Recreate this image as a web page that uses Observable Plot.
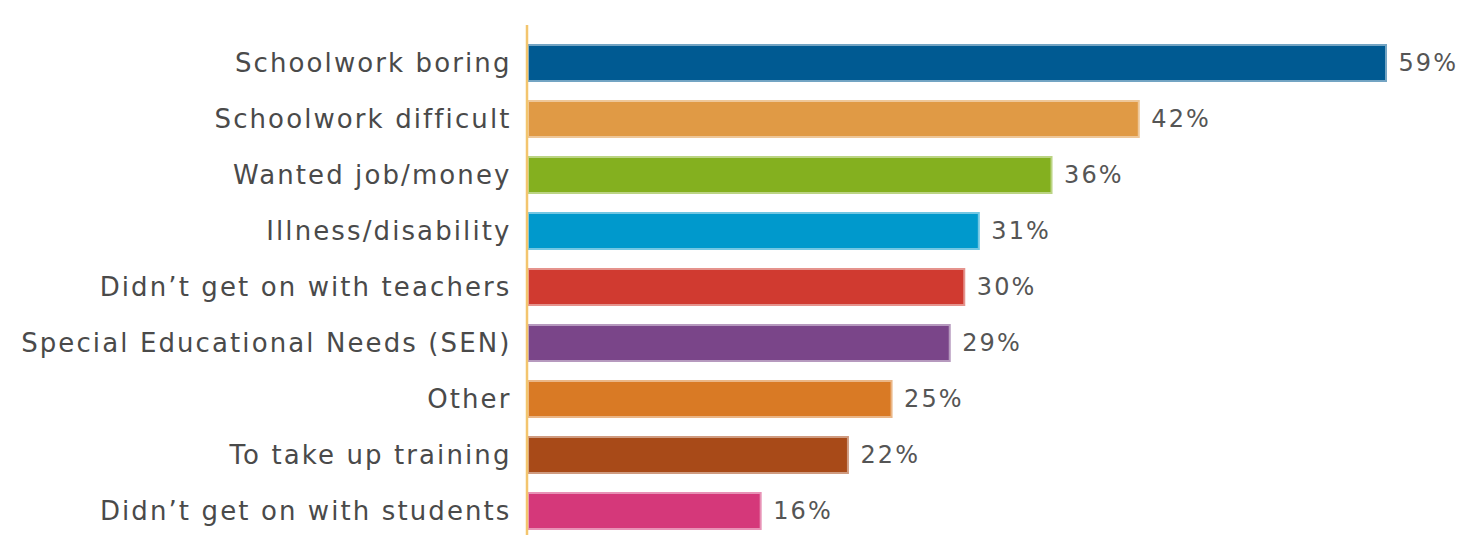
<!DOCTYPE html>
<html>
<head>
<meta charset="utf-8">
<script src="https://cdn.jsdelivr.net/npm/d3@7"></script>
<script src="https://cdn.jsdelivr.net/npm/@observablehq/plot@0.6"></script>
<style>
  html, body { margin: 0; padding: 0; background: #fff; }
  #chart svg { display: block; }
  #chart svg text { letter-spacing: 2.1px; }
</style>
</head>
<body>
<div id="chart"></div>
<script>
const reasons = [
  "Schoolwork boring",
  "Schoolwork difficult",
  "Wanted job/money",
  "Illness/disability",
  "Didn\u2019t get on with teachers",
  "Special Educational Needs (SEN)",
  "Other",
  "To take up training",
  "Didn\u2019t get on with students"
];
const percents = [59, 42, 36, 31, 30, 29, 25, 22, 16];
const colors = ["#005a92", "#e09a45", "#84b01f", "#0099cc", "#d03a30", "#7a4589", "#d97a25", "#a84a18", "#d5387a"];

const data = reasons.map((r, i) => ({
  reason: r,
  value: percents[i],
  fill: colors[i],
  outline: d3.interpolateRgb(colors[i], "#ffffff")(0.45)
}));

const chart = Plot.plot({
  width: 1469,
  height: 535,
  marginLeft: 528,
  marginRight: 83,
  marginTop: 44,
  marginBottom: 6,
  style: { fontFamily: "'DejaVu Sans', sans-serif", background: "#fff" },
  x: { domain: [0, 59], axis: null },
  y: { domain: reasons, paddingInner: 0.36, paddingOuter: 0, label: null },
  marks: [
    Plot.barX(data, {
      y: "reason", x: "value",
      fill: d => d.fill, stroke: d => d.outline, strokeWidth: 2
    }),
    Plot.ruleX([0], { stroke: "#f3c56e", strokeWidth: 2.5, dx: -1.5, insetTop: -19, insetBottom: -6 }),
    Plot.text(data, {
      y: "reason", x: "value", text: d => d.value + "%",
      textAnchor: "start", dx: 12, fill: "#555", fontSize: 24
    }),
    Plot.axisY({ tickSize: 0, tickPadding: 17, fontSize: 26, color: "#4a4a4a", label: null })
  ]
});
document.getElementById("chart").append(chart);
</script>
</body>
</html>
